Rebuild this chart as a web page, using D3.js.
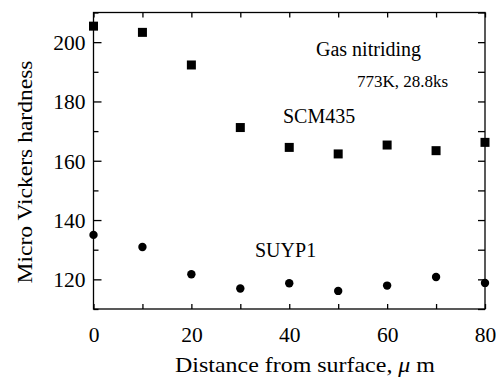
<!DOCTYPE html>
<html>
<head>
<meta charset="utf-8">
<script src="https://cdn.jsdelivr.net/npm/d3@7"></script>
<style>
  html, body { margin: 0; padding: 0; background: #fff; }
  svg { display: block; }
  text { font-family: "Liberation Serif", "Times New Roman", serif; fill: #000; }
</style>
</head>
<body>
<svg id="chart" width="496" height="378"></svg>
<script>
// ---- data ----
const distances = [0, 10, 20, 30, 40, 50, 60, 70, 80];
const scm435 = [205.4, 203.3, 192.3, 171.2, 164.5, 162.3, 165.3, 163.4, 166.2];
const suyp1 = [135.0, 130.9, 121.7, 116.9, 118.7, 116.1, 117.9, 120.8, 118.8];
const xTickLabels = [0, 20, 40, 60, 80];
const yTickLabels = [120, 140, 160, 180, 200];
const xDomain = [0, 80];
const yDomain = [110, 210];
const xTitle = "Distance from surface, ";
const yTitle = "Micro Vickers hardness";
const notes = ["Gas nitriding", "773K, 28.8ks"];
const seriesNames = ["SCM435", "SUYP1"];

// ---- layout ----
const W = 496, H = 378;
const m = { left: 93.5, right: 11, top: 12.5, bottom: 69 };
const svg = d3.select("#chart");
const x = d3.scaleLinear().domain(xDomain).range([m.left, W - m.right]);
const y = d3.scaleLinear().domain(yDomain).range([H - m.bottom, m.top]);

const g = svg.append("g");

// frame
g.append("rect")
  .attr("x", x(xDomain[0])).attr("y", y(yDomain[1]))
  .attr("width", x(xDomain[1]) - x(xDomain[0]))
  .attr("height", y(yDomain[0]) - y(yDomain[1]))
  .attr("fill", "none").attr("stroke", "#000").attr("stroke-width", 1.3);

const xMinor = d3.range(xDomain[0], xDomain[1] + 1, 10);
const yMinor = d3.range(yDomain[0], yDomain[1] + 1, 10);

const axBottom = g.append("g").attr("transform", `translate(0,${y(yDomain[0])})`)
  .call(d3.axisBottom(x).tickValues(xMinor).tickSize(-5).tickFormat(""));
const axTop = g.append("g").attr("transform", `translate(0,${y(yDomain[1])})`)
  .call(d3.axisTop(x).tickValues(xMinor).tickSize(-5).tickFormat(""));
const axLeftMinor = g.append("g").attr("transform", `translate(${x(xDomain[0])},0)`)
  .call(d3.axisLeft(y).tickValues(yMinor.filter(v => !yTickLabels.includes(v))).tickSize(-5).tickFormat(""));
const axLeftMajor = g.append("g").attr("transform", `translate(${x(xDomain[0])},0)`)
  .call(d3.axisLeft(y).tickValues(yTickLabels).tickSize(-8).tickPadding(8).tickFormat(d3.format("d")));
const axRight = g.append("g").attr("transform", `translate(${x(xDomain[1])},0)`)
  .call(d3.axisRight(y).tickValues(yMinor).tickSize(-7).tickFormat(""));
const axBottomLab = g.append("g").attr("transform", `translate(0,${y(yDomain[0])})`)
  .call(d3.axisBottom(x).tickValues(xTickLabels).tickSize(0).tickPadding(18).tickFormat(d3.format("d")));

[axBottom, axTop, axLeftMinor, axLeftMajor, axRight, axBottomLab].forEach(a => {
  a.attr("font-family", null);
  a.select(".domain").remove();
  a.selectAll(".tick line").attr("stroke", "#000").attr("stroke-width", 1.3);
  a.selectAll("text").attr("font-size", 21.5).attr("fill", "#000");
});
axLeftMajor.selectAll("text").attr("dy", "0.35em");

// series
g.append("g").selectAll("rect").data(distances.map((d, i) => [d, scm435[i]]))
  .join("rect")
  .attr("x", d => x(d[0]) - 4.5).attr("y", d => y(d[1]) - 4.5)
  .attr("width", 9).attr("height", 9).attr("fill", "#000");
g.append("g").selectAll("circle").data(distances.map((d, i) => [d, suyp1[i]]))
  .join("circle")
  .attr("cx", d => x(d[0])).attr("cy", d => y(d[1])).attr("r", 4.2).attr("fill", "#000");

// annotations
svg.append("text").attr("x", 316).attr("y", 56).attr("font-size", 20).text(notes[0]);
svg.append("text").attr("x", 357).attr("y", 87).attr("font-size", 17).text(notes[1]);
svg.append("text").attr("x", 283).attr("y", 123).attr("font-size", 20).text(seriesNames[0]);
svg.append("text").attr("x", 255).attr("y", 257).attr("font-size", 20).text(seriesNames[1]);

// axis titles
const xt = svg.append("text").attr("x", 175).attr("y", 372).attr("font-size", 21)
  .attr("textLength", 260).attr("lengthAdjust", "spacingAndGlyphs");
xt.append("tspan").text(xTitle);
xt.append("tspan").attr("font-style", "italic").text("μ");
xt.append("tspan").text(" m");

svg.append("text")
  .attr("transform", "translate(32,172) rotate(-90)")
  .attr("text-anchor", "middle").attr("font-size", 21)
  .attr("textLength", 223).attr("lengthAdjust", "spacingAndGlyphs")
  .text(yTitle);
</script>
</body>
</html>
